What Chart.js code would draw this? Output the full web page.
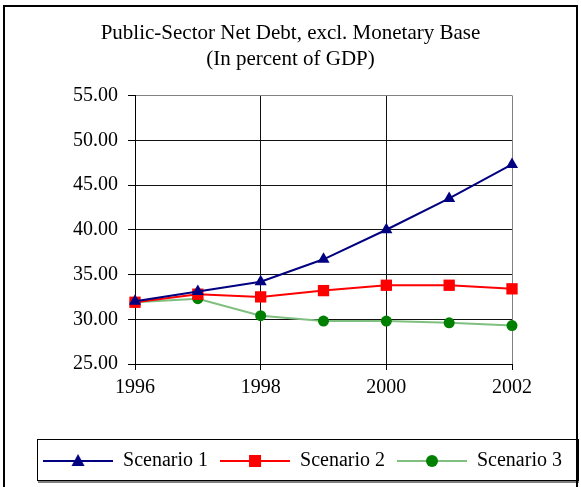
<!DOCTYPE html>
<html>
<head>
<meta charset="utf-8">
<script src="https://cdn.jsdelivr.net/npm/chart.js@4/dist/chart.umd.min.js"></script>
<style>
  html, body { margin: 0; padding: 0; background: #fff; }
  #wrap { width: 581px; height: 487px; }
</style>
</head>
<body>
<div id="wrap"><canvas id="debtChart" width="581" height="487"></canvas></div>
<script>
const years = [1996, 1997, 1998, 1999, 2000, 2001, 2002];
const scenario1 = [32.0, 33.1, 34.2, 36.7, 40.0, 43.5, 47.3];
const scenario2 = [31.9, 32.8, 32.5, 33.2, 33.8, 33.8, 33.4];
const scenario3 = [31.9, 32.3, 30.4, 29.8, 29.8, 29.6, 29.3];
const seriesNames = ["Scenario 1", "Scenario 2", "Scenario 3"];
const titleLines = ["Public-Sector Net Debt, excl. Monetary Base", "(In percent of GDP)"];

const FONT = "'Liberation Serif', 'Times New Roman', serif";

const styles = [
  { line: "#000080", fill: "#000080", shape: "triangle", radius: 7 },
  { line: "#FF0000", fill: "#FF0000", shape: "rect", radius: 8 },
  { line: "#7FBF7F", fill: "#008000", shape: "circle", radius: 5.5 }
];

// little line+marker icon for the legend
function legendIcon(st) {
  const c = document.createElement("canvas");
  c.width = 70; c.height = 18;
  const g = c.getContext("2d");
  g.strokeStyle = st.line;
  g.lineWidth = 2;
  g.beginPath(); g.moveTo(0, 9); g.lineTo(70, 9); g.stroke();
  g.fillStyle = st.fill;
  g.beginPath();
  if (st.shape === "triangle") {
    g.moveTo(35, 2); g.lineTo(41.5, 14); g.lineTo(28.5, 14); g.closePath();
  } else if (st.shape === "rect") {
    g.rect(29, 3, 12, 12);
  } else {
    g.arc(35, 9, 6, 0, Math.PI * 2);
  }
  g.fill();
  return c;
}

const icons = styles.map(legendIcon);

function toPoints(vals) {
  return vals.map((v, i) => ({ x: years[i], y: v }));
}

const datasets = [scenario1, scenario2, scenario3].map((vals, i) => ({
  label: seriesNames[i],
  data: toPoints(vals),
  borderColor: styles[i].line,
  backgroundColor: styles[i].fill,
  borderWidth: 2,
  pointStyle: styles[i].shape,
  pointRadius: styles[i].radius,
  pointBackgroundColor: styles[i].fill,
  pointBorderColor: styles[i].fill,
  pointBorderWidth: 0,
  tension: 0,
  clip: false,
  fill: false
}));

const frame = {
  id: "frame",
  beforeDraw(chart) {
    const ctx = chart.ctx;
    ctx.save();
    ctx.fillStyle = "#fff";
    ctx.fillRect(0, 0, chart.width, chart.height);
    ctx.restore();
  },
  afterLayout(chart) {
    // push the legend row a bit to the right, like the original
    chart.legend.left += 12;
    chart.legend.right += 12;
  },
  afterDraw(chart) {
    const ctx = chart.ctx;
    const lg = chart.legend;
    ctx.save();
    // legend box with shadow
    ctx.fillStyle = "#808080";
    ctx.fillRect(38, lg.bottom, 541, 2);
    ctx.strokeStyle = "#000";
    ctx.lineWidth = 1;
    ctx.strokeRect(37.5, lg.top + 0.5, 541, lg.bottom - lg.top - 1);
    // outer frame
    ctx.lineWidth = 2;
    ctx.strokeRect(4, 6, 573, 490);
    ctx.restore();
  }
};

new Chart(document.getElementById("debtChart"), {
  type: "line",
  data: { datasets: datasets },
  options: {
    responsive: false,
    animation: false,
    layout: { padding: { top: 0, bottom: 6, left: 0, right: 0 } },
    plugins: {
      title: {
        display: true,
        text: titleLines,
        color: "#000",
        font: { family: FONT, size: 21, weight: "normal", lineHeight: 1.25 },
        padding: { top: 20, bottom: 23 }
      },
      legend: {
        position: "bottom",
        labels: {
          color: "#000",
          font: { family: FONT, size: 20 },
          usePointStyle: true,
          pointStyleWidth: 70,
          padding: 12,
          generateLabels(chart) {
            return chart.data.datasets.map((ds, i) => ({
              text: ds.label,
              pointStyle: icons[i],
              fillStyle: ds.backgroundColor,
              strokeStyle: ds.borderColor,
              lineWidth: 0,
              fontColor: "#000",
              hidden: false,
              datasetIndex: i
            }));
          }
        }
      },
      tooltip: { enabled: false }
    },
    scales: {
      x: {
        type: "linear",
        min: 1996,
        max: 2002,
        afterFit(s) { s.height = 75; },
        ticks: {
          stepSize: 2,
          color: "#000",
          padding: 6,
          font: { family: FONT, size: 20 },
          callback: v => String(v)
        },
        grid: {
          color: c => (c.tick && c.tick.value === 2002 ? "#808080" : "#111"),
          tickColor: "#000",
          tickLength: 6,
          lineWidth: 1
        },
        border: { color: "#000", width: 1 }
      },
      y: {
        min: 25,
        max: 55,
        afterFit(s) { s.width = 135; },
        ticks: {
          stepSize: 5,
          color: "#000",
          padding: 10,
          font: { family: FONT, size: 20 },
          callback: v => v.toFixed(2)
        },
        grid: {
          color: c => (c.tick && c.tick.value === 55 ? "#808080" : "#111"),
          tickColor: "#000",
          tickLength: 7,
          lineWidth: 1
        },
        border: { color: "#000", width: 1 }
      },
      yRight: {
        position: "right",
        afterFit(s) { s.width = 69; },
        ticks: { display: false },
        grid: { display: false },
        border: { display: false }
      }
    }
  },
  plugins: [frame]
});
</script>
</body>
</html>
